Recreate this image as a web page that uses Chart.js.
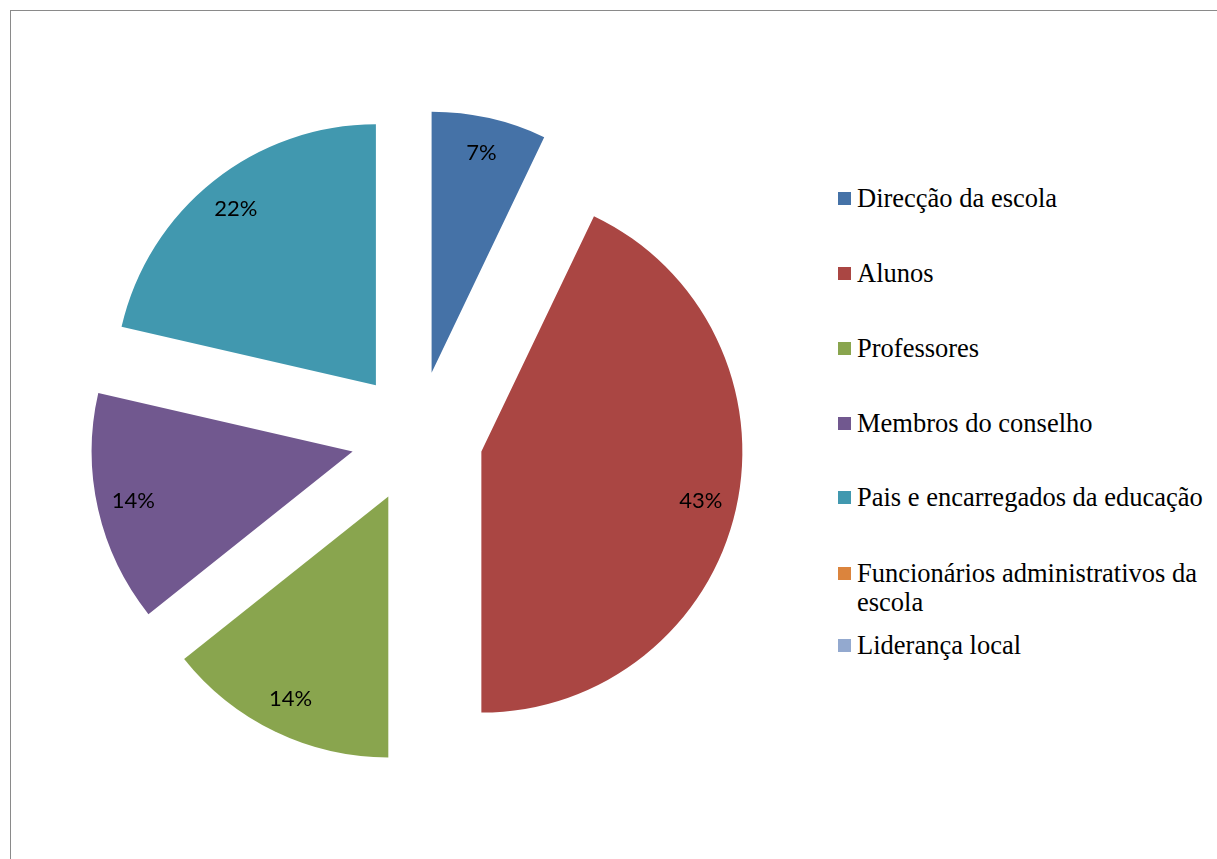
<!DOCTYPE html>
<html>
<head>
<meta charset="utf-8">
<script src="https://cdn.jsdelivr.net/npm/chart.js@4/dist/chart.umd.min.js"></script>
<style>
  html, body { margin:0; padding:0; width:1217px; height:859px; overflow:hidden; background:#fff; }
  #frame { position:absolute; left:10px; top:10px; width:1400px; height:1000px; border-top:1px solid #8a8a8a; border-left:1px solid #8a8a8a; }
  #wrap { position:absolute; left:0; top:0; width:834px; height:859px; }
  #legend { position:absolute; left:0; top:0; font-family:'Liberation Serif', 'Tinos', 'Times New Roman', 'DejaVu Serif', serif; font-size:26.5px; color:#000; }
  .item { position:absolute; left:838px; display:flex; align-items:flex-start; }
  .sw { width:13px; height:13px; margin-top:8px; flex:none; }
  .tx { margin-left:6px; width:358px; line-height:29px; }
</style>
</head>
<body>
<div id="frame"></div>
<div id="wrap"><canvas id="c"></canvas></div>
<div id="legend"></div>
<script>
const categories = ["Direcção da escola","Alunos","Professores","Membros do conselho","Pais e encarregados da educação","Funcionários administrativos da escola","Liderança local"];
const shares = [7.1, 42.9, 14.3, 14.3, 21.4, 0, 0];
const shareLabels = ["7%","43%","14%","14%","22%","",""];
const colors = ["#4572A7","#AA4643","#89A54E","#71588F","#4198AF","#DB843D","#93A9CF"];

const EXPLODE = 66;
const LABEL_DIST = 291;

const explodePlugin = {
  id: 'explode',
  beforeDatasetDraw(chart, args) {
    const ctx = chart.ctx;
    args.meta.data.forEach(arc => {
      if (!(arc.endAngle - arc.startAngle > 0)) return;
      const mid = (arc.startAngle + arc.endAngle) / 2;
      ctx.save();
      ctx.translate(Math.cos(mid) * EXPLODE, Math.sin(mid) * EXPLODE);
      arc.draw(ctx, chart.chartArea);
      ctx.restore();
    });
    return false;
  },
  afterDatasetsDraw(chart) {
    const ctx = chart.ctx;
    const meta = chart.getDatasetMeta(0);
    ctx.save();
    ctx.font = '22px Lato, "Open Sans", sans-serif';
    ctx.fillStyle = '#000';
    ctx.textAlign = 'center';
    ctx.textBaseline = 'middle';
    meta.data.forEach((arc, i) => {
      if (!(arc.endAngle - arc.startAngle > 0)) return;
      const mid = (arc.startAngle + arc.endAngle) / 2;
      ctx.fillText(shareLabels[i], arc.x + Math.cos(mid) * LABEL_DIST, arc.y + Math.sin(mid) * LABEL_DIST);
    });
    ctx.restore();
  }
};

new Chart(document.getElementById('c'), {
  type: 'pie',
  data: {
    labels: categories,
    datasets: [{ data: shares, backgroundColor: colors, borderWidth: 0, radius: 261 }]
  },
  options: {
    responsive: true,
    maintainAspectRatio: false,
    animation: false,
    layout: { padding: { top: 15, bottom: 0, left: 0, right: 0 } },
    plugins: { legend: { display: false }, tooltip: { enabled: false } }
  },
  plugins: [explodePlugin]
});

const tops = [184, 259, 334, 409, 483, 559, 631];
const legend = document.getElementById('legend');
categories.forEach((name, i) => {
  const it = document.createElement('div');
  it.className = 'item';
  it.style.top = tops[i] + 'px';
  const sw = document.createElement('div');
  sw.className = 'sw';
  sw.style.background = colors[i];
  const tx = document.createElement('div');
  tx.className = 'tx';
  tx.textContent = name;
  it.appendChild(sw); it.appendChild(tx);
  legend.appendChild(it);
});
</script>
</body>
</html>
